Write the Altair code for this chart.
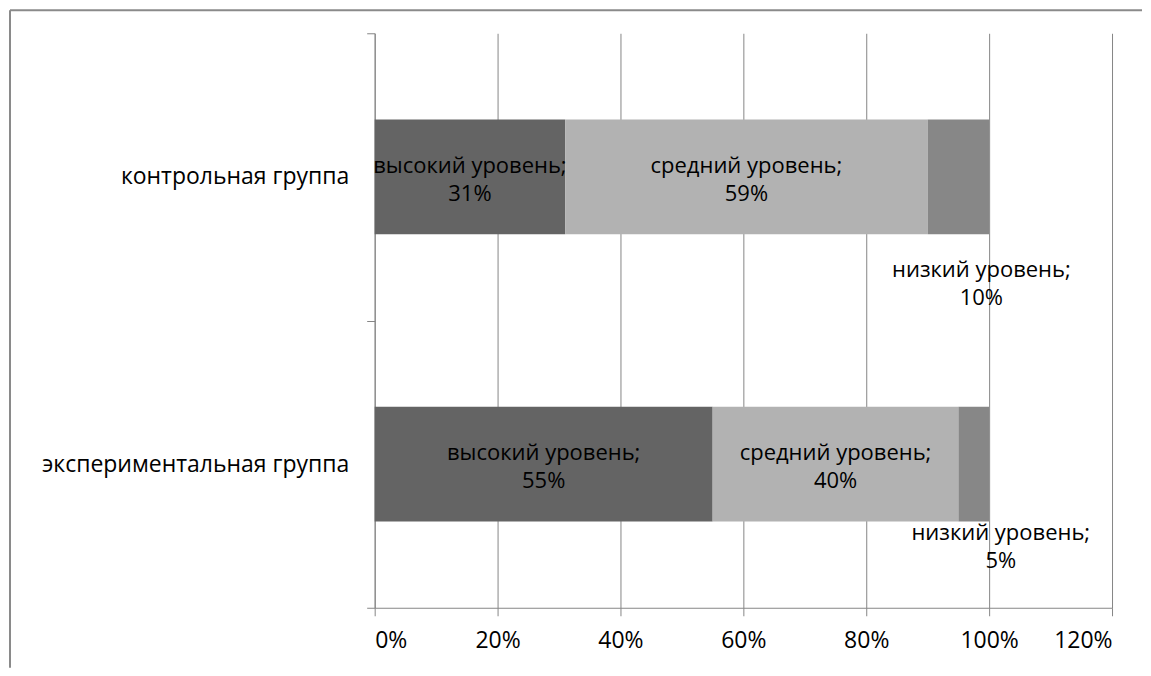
import altair as alt
import pandas as pd

groups = ["контрольная группа", "экспериментальная группа"]
levels = ["высокий уровень", "средний уровень", "низкий уровень"]
control = [0.31, 0.59, 0.10]
experimental = [0.55, 0.40, 0.05]
colors = ["#646464", "#b2b2b2", "#878787"]
x_ticks = [0, 0.2, 0.4, 0.6, 0.8, 1.0, 1.2]

rows = []
for g, vals in zip(groups, [control, experimental]):
    for i, (lv, v) in enumerate(zip(levels, vals)):
        rows.append({"group": g, "level": lv, "order": i, "value": v})
df = pd.DataFrame(rows)

FONT = "Open Sans"
FS = 22
GRAY = "#868686"
LH = 28

base = alt.Chart(df).transform_stack(
    stack="value", groupby=["group"], as_=["x0", "x1"],
    sort=[alt.SortField("order", order="ascending")]
).transform_calculate(
    mid="(datum.x0 + datum.x1) / 2",
    label="[datum.level + ';', format(datum.value, '.0%')]"
)

y_enc = alt.Y("group:N", sort=groups, title=None,
              scale=alt.Scale(paddingInner=0, paddingOuter=0),
              axis=alt.Axis(tickBand="extent", tickSize=8, labelPadding=18, labelLimit=0,
                            domainColor=GRAY, tickColor=GRAY, labelColor="#000000",
                            labelFont=FONT, labelFontSize=23, grid=False))
x_enc = alt.X("x0:Q", title=None,
              scale=alt.Scale(domain=[0, 1.2], nice=False),
              axis=alt.Axis(values=x_ticks, format=".0%", tickSize=8, labelPadding=14,
                            domainColor=GRAY, tickColor=GRAY, gridColor=GRAY,
                            grid=True, labelColor="#000000",
                            labelFont=FONT, labelFontSize=23))

bars = base.mark_bar(height={"band": 0.4}).encode(
    y=y_enc,
    x=x_enc,
    x2="x1:Q",
    color=alt.Color("level:N", scale=alt.Scale(domain=levels, range=colors), legend=None),
)

txt_kw = dict(align="center", baseline="middle", lineHeight=LH, font=FONT,
              fontSize=FS, color="#000000")

main_labels = base.transform_filter(
    alt.datum.order < 2
).mark_text(dy=-LH / 2 + 3, **txt_kw).encode(
    y=alt.Y("group:N", sort=groups),
    x=alt.X("mid:Q"),
    text="label:N",
)

low_ctrl = base.transform_filter(
    (alt.datum.order == 2) & (alt.datum.group == groups[0])
).mark_text(dx=23, dy=107 - LH / 2, **txt_kw).encode(
    y=alt.Y("group:N", sort=groups), x=alt.X("mid:Q"), text="label:N")

low_exp = base.transform_filter(
    (alt.datum.order == 2) & (alt.datum.group == groups[1])
).mark_text(dx=27, dy=83 - LH / 2, **txt_kw).encode(
    y=alt.Y("group:N", sort=groups), x=alt.X("mid:Q"), text="label:N")

border_data = alt.Data(values=[{}])
top_border = alt.Chart(border_data).mark_rule(color="#8a8a8a", strokeWidth=2).encode(
    x=alt.value(-365), x2=alt.value(768), y=alt.value(-23))
left_border = alt.Chart(border_data).mark_rule(color="#8a8a8a", strokeWidth=2).encode(
    x=alt.value(-365), y=alt.value(-23), y2=alt.value(635))

chart = alt.layer(bars, main_labels, low_ctrl, low_exp, top_border, left_border).properties(
    width=738, height=575,
    padding={"left": 1, "top": 1, "right": 0, "bottom": 0},
).configure_view(stroke=None)

chart.save("out.html", embed_options={"renderer": "svg", "actions": False})
